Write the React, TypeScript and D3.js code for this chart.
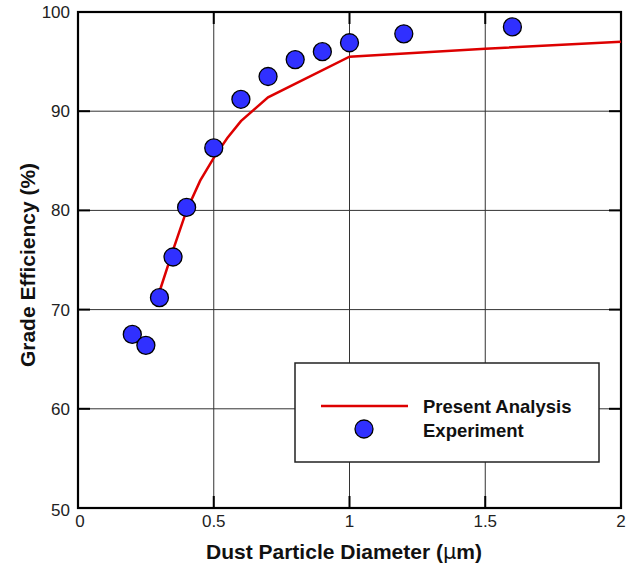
import React from "react";
import * as d3 from "d3";

const xTicks = [0, 0.5, 1, 1.5, 2];
const xTickLabels = ["0", "0.5", "1", "1.5", "2"];
const yTicks = [50, 60, 70, 80, 90, 100];
const yTickLabels = ["50", "60", "70", "80", "90", "100"];

const analysisX = [0.3, 0.35, 0.4, 0.45, 0.5, 0.55, 0.6, 0.7, 1.0, 1.5, 2.0];
const analysisY = [71.8, 76.0, 80.0, 83.0, 85.3, 87.3, 89.0, 91.4, 95.5, 96.3, 97.0];

const expX = [0.2, 0.25, 0.3, 0.35, 0.4, 0.5, 0.6, 0.7, 0.8, 0.9, 1.0, 1.2, 1.6];
const expY = [67.5, 66.4, 71.2, 75.3, 80.3, 86.3, 91.2, 93.5, 95.2, 96.0, 96.9, 97.8, 98.5];

export default function App() {
  const W = 642, H = 568;
  const left = 78, right = 621, top = 12, bottom = 508;
  const x = d3.scaleLinear().domain([0, 2]).range([left, right]);
  const y = d3.scaleLinear().domain([50, 100]).range([bottom, top]);
  const line = d3.line<number>().x((_, i) => x(analysisX[i])).y((d) => y(d));
  const font = "'Liberation Sans', Arial, Helvetica, sans-serif";

  return (
    <svg width={W} height={H} style={{ position: "absolute", left: 0, top: 0 }} fontFamily={font}>
      <rect width={W} height={H} fill="#fff" />
      {/* grid */}
      {xTicks.slice(1, -1).map((t) => (
        <line key={"gx" + t} x1={x(t)} x2={x(t)} y1={top} y2={bottom} stroke="#333" strokeWidth={1} />
      ))}
      {yTicks.slice(1, -1).map((t) => (
        <line key={"gy" + t} x1={left} x2={right} y1={y(t)} y2={y(t)} stroke="#333" strokeWidth={1} />
      ))}
      {/* ticks */}
      {xTicks.slice(1, -1).map((t) => (
        <g key={"tx" + t}>
          <line x1={x(t)} x2={x(t)} y1={bottom} y2={bottom - 12} stroke="#000" strokeWidth={2} />
          <line x1={x(t)} x2={x(t)} y1={top} y2={top + 12} stroke="#000" strokeWidth={2} />
        </g>
      ))}
      {yTicks.slice(1, -1).map((t) => (
        <g key={"ty" + t}>
          <line x1={left} x2={left + 12} y1={y(t)} y2={y(t)} stroke="#000" strokeWidth={2} />
          <line x1={right} x2={right - 12} y1={y(t)} y2={y(t)} stroke="#000" strokeWidth={2} />
        </g>
      ))}
      {/* legend box */}
      <rect x={295} y={363} width={304} height={99} fill="#fff" stroke="#222" strokeWidth={1.5} />
      <line x1={321} x2={408} y1={406} y2={406} stroke="#dd0000" strokeWidth={2.5} />
      <circle cx={364} cy={429} r={9} fill="#3030ff" stroke="#000" strokeWidth={1.3} />
      <text x={423} y={413} fontSize={18.5} fontWeight="bold" fill="#111">Present Analysis</text>
      <text x={423} y={437} fontSize={18.5} fontWeight="bold" fill="#111">Experiment</text>
      {/* frame */}
      <rect x={left} y={top} width={right - left} height={bottom - top} fill="none" stroke="#000" strokeWidth={2.2} />
      {/* analysis line */}
      <path d={line(analysisY) || ""} fill="none" stroke="#dd0000" strokeWidth={2.5} />
      {/* experiment markers */}
      {expX.map((v, i) => (
        <circle key={"e" + i} cx={x(v)} cy={y(expY[i])} r={9} fill="#3030ff" stroke="#000" strokeWidth={1.3} />
      ))}
      {/* tick labels */}
      {xTicks.map((t, i) => (
        <text key={"lx" + t} x={i === 0 ? x(t) + 2 : x(t)} y={527} fontSize={17} textAnchor="middle" fill="#222">
          {xTickLabels[i]}
        </text>
      ))}
      {yTicks.map((t, i) => (
        <text key={"ly" + t} x={70} y={i === 0 ? y(t) + 8 : y(t) + 6} fontSize={17} textAnchor="end" fill="#222">
          {yTickLabels[i]}
        </text>
      ))}
      {/* axis titles */}
      <text x={344} y={559} fontSize={21} fontWeight="bold" textAnchor="middle" fill="#111">
        Dust Particle Diameter (<tspan fontWeight="normal" fontFamily="'DejaVu Sans', sans-serif">μ</tspan>m)
      </text>
      <text transform="translate(35,265) rotate(-90)" fontSize={21} fontWeight="bold" textAnchor="middle" fill="#111">
        Grade Efficiency (%)
      </text>
    </svg>
  );
}
